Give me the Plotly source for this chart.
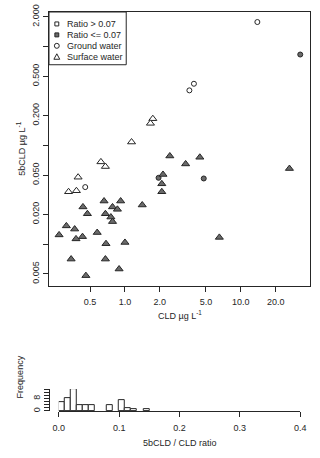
import plotly.graph_objects as go

# ground water samples, ratio > 0.07 (open circles)
gw_hi_cld = [13.9, 3.6, 3.94, 0.454]
gw_hi_5b = [1.77, 0.36, 0.42, 0.0378]
# ground water samples, ratio <= 0.07 (filled circles)
gw_lo_cld = [32.6, 1.95, 4.79]
gw_lo_5b = [0.83, 0.0469, 0.0462]
# surface water samples, ratio > 0.07 (open triangles)
sw_hi_cld = [1.74, 1.66, 1.14, 0.62, 0.678, 0.394, 0.326, 0.381]
sw_hi_5b = [0.186, 0.167, 0.108, 0.068, 0.061, 0.0476, 0.0339, 0.0347]
# surface water samples, ratio <= 0.07 (filled triangles)
sw_lo_cld = [2.44, 4.43, 3.34, 26.3, 2.13, 2.08, 2.08, 1.41, 0.66, 0.918,
             0.434, 0.781, 0.861, 0.474, 0.678, 0.756, 0.781, 0.312, 0.368, 0.27,
             0.576, 0.43, 0.378, 6.53, 0.686, 1.0, 0.343, 0.678, 0.89, 0.46]
sw_lo_5b = [0.078, 0.0757, 0.0648, 0.0582, 0.0507, 0.0408, 0.0339, 0.0249, 0.0273, 0.0273,
            0.0238, 0.0238, 0.0225, 0.0203, 0.0203, 0.0188, 0.0169, 0.0153, 0.0142, 0.0124,
            0.0131, 0.0119, 0.0113, 0.0117, 0.0101, 0.0104, 0.00706, 0.00706, 0.0056, 0.0048]

# histogram of 5bCLD / CLD ratio (bin left edges, width 0.01)
bin_left = [0.00, 0.01, 0.02, 0.03, 0.04, 0.05, 0.08, 0.10, 0.11, 0.12, 0.14]
bin_count = [6, 8, 14, 4, 4, 4, 4, 7, 2, 1, 1]

y_tickvals = [0.005, 0.01, 0.02, 0.05, 0.1, 0.2, 0.5, 1, 2]
y_ticktext = ['0.005', ' ', '0.020', '0.050', ' ', '0.200', '0.500', ' ', '2.000']
x_tickvals = [0.5, 1, 2, 5, 10, 20]
x_ticktext = ['0.5', '1.0', '2.0', '5.0', '10.0', '20.0']

legend_labels = ['Ratio > 0.07', 'Ratio <= 0.07', 'Ground water', 'Surface water']

INK = '#262626'
FILL = '#6a6a6a'
FONT = 'Liberation Sans, Arial, sans-serif'

# page geometry (px) -> paper coords
W, H = 320, 458
ML, MR, MT, MB = 49, 4, 10, 47
PW, PH = W - ML - MR, H - MT - MB


def px(x):
    return (x - ML) / PW


def py(y):
    return (H - MB - y) / PH


fig = go.Figure()


def pts(x, y, symbol, fill, size):
    fig.add_trace(go.Scatter(
        x=x, y=y, mode='markers', showlegend=False,
        marker=dict(symbol=symbol, size=size, color=fill,
                    line=dict(color=INK, width=1)),
        xaxis='x', yaxis='y'))


pts(gw_hi_cld, gw_hi_5b, 'circle', 'white', 5)
pts(gw_lo_cld, gw_lo_5b, 'circle', FILL, 5)
pts(sw_hi_cld, sw_hi_5b, 'triangle-up', 'white', 7)
pts(sw_lo_cld, sw_lo_5b, 'triangle-up', FILL, 7)

fig.add_trace(go.Bar(
    x=bin_left, y=bin_count, width=0.01, offset=0,
    marker=dict(color='white', line=dict(color=INK, width=1)),
    showlegend=False, xaxis='x2', yaxis='y2'))

axis_common = dict(
    showgrid=False, zeroline=False, showline=True, linecolor=INK, linewidth=1,
    ticks='outside', ticklen=5, tickcolor=INK, tickwidth=1,
    tickfont=dict(family=FONT, size=9, color=INK))

fig.update_layout(
    width=W, height=H,
    margin=dict(l=ML, r=MR, t=MT, b=MB),
    paper_bgcolor='white', plot_bgcolor='white',
    font=dict(family=FONT, size=9, color=INK),
    bargap=0,
    xaxis=dict(type='log', range=[-0.6557, 1.5975], domain=[0, 1], anchor='y',
               tickmode='array', tickvals=x_tickvals, ticktext=x_ticktext,
               mirror=True, ticklabelstandoff=3, **axis_common),
    yaxis=dict(type='log', range=[-2.4199, 0.3494], domain=[py(285), 1], anchor='x',
               tickmode='array', tickvals=y_tickvals, ticktext=y_ticktext,
               tickangle=-90, mirror=True, **axis_common),
    xaxis2=dict(range=[0, 0.4], domain=[px(59), px(306)], anchor='y2',
                tickmode='array', tickvals=[0, 0.1, 0.2, 0.3, 0.4],
                ticktext=['0.0', '0.1', '0.2', '0.3', '0.4'],
                ticklabelstandoff=3, **axis_common),
    yaxis2=dict(range=[0, 14], domain=[0, py(389)], anchor='free', position=0,
                tickmode='array', tickvals=[0, 2, 4, 6, 8, 10, 12, 14],
                ticktext=['0', ' ', ' ', ' ', '8', ' ', ' ', ' '],
                tickangle=-90, **axis_common),
)

# axis titles
fig.add_annotation(x=px(12), y=py(147.5), xref='paper', yref='paper',
                   text='5bCLD µg L<sup>-1</sup>', textangle=-90, showarrow=False,
                   font=dict(size=9))
fig.add_annotation(x=0.5, y=py(323), xref='paper', yref='paper',
                   text='CLD µg L<sup>-1</sup>', showarrow=False, font=dict(size=9))
fig.add_annotation(x=px(12), y=py(400), xref='paper', yref='paper',
                   text='Frequency', textangle=-90, showarrow=False, font=dict(size=9))
fig.add_annotation(x=0.5, y=py(450), xref='paper', yref='paper',
                   text='5bCLD / CLD ratio', showarrow=False, font=dict(size=9))

# legend box, drawn by hand so the rows stay tight
fig.add_shape(type='rect', xref='paper', yref='paper',
              x0=px(49), x1=px(128), y0=py(63), y1=py(10),
              line=dict(color=INK, width=1), fillcolor='white', layer='below')
row_y = [22, 33, 44, 55]
sx = 57
for i, label in enumerate(legend_labels):
    yy = row_y[i]
    fig.add_annotation(x=px(65), y=py(yy), xref='paper', yref='paper',
                       text=label, showarrow=False, xanchor='left', yanchor='middle',
                       font=dict(size=9))
    if i < 2:
        fig.add_shape(type='rect', xref='paper', yref='paper',
                      x0=px(sx - 2), x1=px(sx + 2), y0=py(yy + 2), y1=py(yy - 2),
                      line=dict(color=INK, width=1),
                      fillcolor='white' if i == 0 else FILL)
    elif i == 2:
        fig.add_shape(type='circle', xref='paper', yref='paper',
                      x0=px(sx - 2.5), x1=px(sx + 2.5), y0=py(yy + 2.5), y1=py(yy - 2.5),
                      line=dict(color=INK, width=1), fillcolor='white')
    else:
        path = 'M {} {} L {} {} L {} {} Z'.format(
            px(sx - 3), py(yy + 2.5), px(sx + 3), py(yy + 2.5), px(sx), py(yy - 3))
        fig.add_shape(type='path', xref='paper', yref='paper', path=path,
                      line=dict(color=INK, width=1), fillcolor='white')

fig.write_html("out.html", config={'displayModeBar': False},
               post_script="document.body.style.margin='0';")
